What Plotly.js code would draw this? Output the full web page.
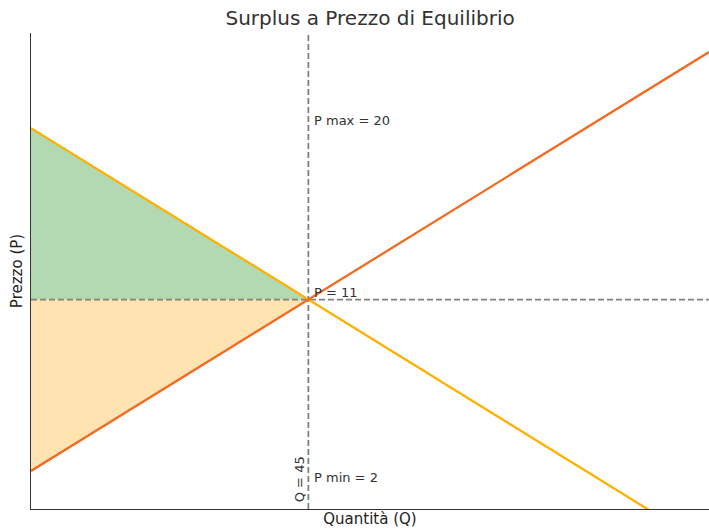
<!DOCTYPE html>
<html>
<head>
<meta charset="utf-8">
<script src="https://cdn.plot.ly/plotly-3.0.1.min.js"></script>
<style>html,body{margin:0;padding:0;background:#fff;}#chart{width:709px;height:530px;}</style>
</head>
<body>
<div id="chart"></div>
<script>
// Data
const quantity = [0, 45, 110];
const demandPrice = [20, 11, -2];
const supplyPrice = [2, 11, 24];
const eqQ = 45;
const eqP = 11;
const pMax = 20;
const pMin = 2;
const xRange = [0, 110];
const yRange = [0, 25];

const consumerQ = [0, eqQ, 0];
const consumerP = [pMax, eqP, eqP];
const producerQ = [0, eqQ, 0];
const producerP = [eqP, eqP, pMin];

const font = '"DejaVu Sans", "Liberation Sans", sans-serif';

const traces = [
  {x: consumerQ, y: consumerP, type: 'scatter', mode: 'none', fill: 'toself',
   fillcolor: 'rgba(0,128,0,0.3)', hoverinfo: 'skip', showlegend: false},
  {x: producerQ, y: producerP, type: 'scatter', mode: 'none', fill: 'toself',
   fillcolor: 'rgba(255,165,0,0.3)', hoverinfo: 'skip', showlegend: false},
  {x: [eqQ, eqQ], y: yRange, type: 'scatter', mode: 'lines',
   line: {color: '#808080', width: 1.8, dash: '6px,3px'}, showlegend: false},
  {x: xRange, y: [eqP, eqP], type: 'scatter', mode: 'lines',
   line: {color: '#808080', width: 1.8, dash: '6px,3px'}, showlegend: false},
  {x: quantity, y: demandPrice, type: 'scatter', mode: 'lines',
   line: {color: '#ffb000', width: 2.3}, showlegend: false},
  {x: quantity, y: supplyPrice, type: 'scatter', mode: 'lines',
   line: {color: '#f26b21', width: 2.3}, showlegend: false}
];

const annFont = {family: font, size: 13, color: '#333'};
const layout = {
  width: 709, height: 530,
  margin: {l: 31, r: 0, t: 33, b: 21},
  paper_bgcolor: '#fff', plot_bgcolor: '#fff',
  title: {text: 'Surplus a Prezzo di Equilibrio', font: {family: font, size: 20, color: '#333'},
          x: 0.522, xanchor: 'center', y: 0.966, yanchor: 'middle'},
  xaxis: {range: xRange, showticklabels: false, ticks: '', showgrid: false, zeroline: false,
          showline: true, linecolor: '#333', linewidth: 1.2,
          title: {text: 'Quantità (Q)', font: {family: font, size: 15, color: '#222'}, standoff: 4}},
  yaxis: {range: yRange, showticklabels: false, ticks: '', showgrid: false, zeroline: false,
          showline: true, linecolor: '#333', linewidth: 1.2,
          title: {text: 'Prezzo (P)', font: {family: font, size: 15, color: '#222'}, standoff: 3}},
  annotations: [
    {x: eqQ, y: pMax, text: 'P max = ' + pMax, xref: 'x', yref: 'y', showarrow: false,
     xanchor: 'left', yanchor: 'bottom', xshift: 4, yshift: -2, font: annFont},
    {x: eqQ, y: eqP, text: 'P = ' + eqP, xref: 'x', yref: 'y', showarrow: false,
     xanchor: 'left', yanchor: 'bottom', xshift: 4, yshift: -2, font: annFont},
    {x: eqQ, y: pMin, text: 'P min = ' + pMin, xref: 'x', yref: 'y', showarrow: false,
     xanchor: 'left', yanchor: 'middle', xshift: 4, yshift: -7, font: annFont},
    {x: eqQ, y: 0.4, text: 'Q = ' + eqQ, xref: 'x', yref: 'y', showarrow: false, textangle: -90,
     xanchor: 'right', yanchor: 'bottom', xshift: 1, yshift: -3, font: annFont}
  ]
};

Plotly.newPlot('chart', traces, layout, {displayModeBar: false, staticPlot: true});
</script>
</body>
</html>
